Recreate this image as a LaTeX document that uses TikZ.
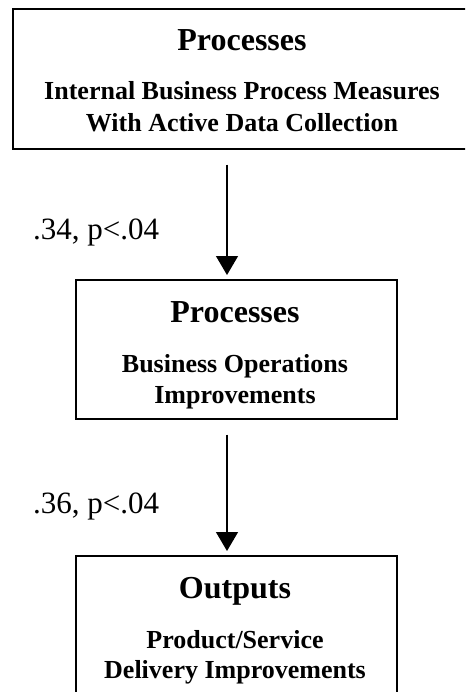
\documentclass[tikz,border=0pt]{standalone}
\usepackage{fontspec}
\setmainfont{Liberation Serif}
\usetikzlibrary{arrows.meta}
\tikzset{
  box/.style={draw=black, line width=1.6pt, inner sep=0pt, anchor=north west},
  titletext/.style={font=\fontsize{32}{32}\selectfont\bfseries, inner sep=0pt, anchor=base},
  subtext/.style={font=\fontsize{26}{26}\selectfont\bfseries, inner sep=0pt, anchor=base},
  coef/.style={font=\fontsize{31}{31}\selectfont, inner sep=0pt, anchor=base west},
  flow/.style={line width=1.3pt, -{Triangle[length=19pt 0 0,width=22pt 0 0]}, shorten <=15pt, shorten >=4pt}
}
\begin{document}
\begin{tikzpicture}[x=1pt,y=-1pt]
\useasboundingbox (0,0) rectangle (465,692);
\fill[white] (0,0) rectangle (465,692);
\clip (0,0) rectangle (465,692);
% boxes
\node[box, minimum width=460pt, minimum height=140pt] (b1) at (12,8) {};
\node[box, minimum width=321pt, minimum height=139pt] (b2) at (75,279) {};
\node[box, minimum width=321pt, minimum height=160pt] (b3) at (75,555) {};
% texts
\node[titletext] (t1) at (242,51) {Processes};
\node[subtext] (s1a) at (242,100) {Internal Business Process Measures};
\node[subtext] (s1b) at (242,132) {With Active Data Collection};
\node[titletext] (t2) at (235,322) {Processes};
\node[subtext] (s2a) at (235,372) {Business Operations};
\node[subtext] (s2b) at (235,403) {Improvements};
\node[titletext] (t3) at (235,598) {Outputs};
\node[subtext] (s3a) at (235,648) {Product/Service};
\node[subtext] (s3b) at (235,678) {Delivery Improvements};
% connectors
\coordinate (ax) at (227,0);
\draw[flow] (b1.south -| ax) -- (b2.north -| ax);
\draw[flow] (b2.south -| ax) -- (b3.north -| ax);
\node[coef] (c1) at (33,240) {.34, p<.04};
\node[coef] (c2) at (33,513) {.36, p<.04};
\end{tikzpicture}
\end{document}
